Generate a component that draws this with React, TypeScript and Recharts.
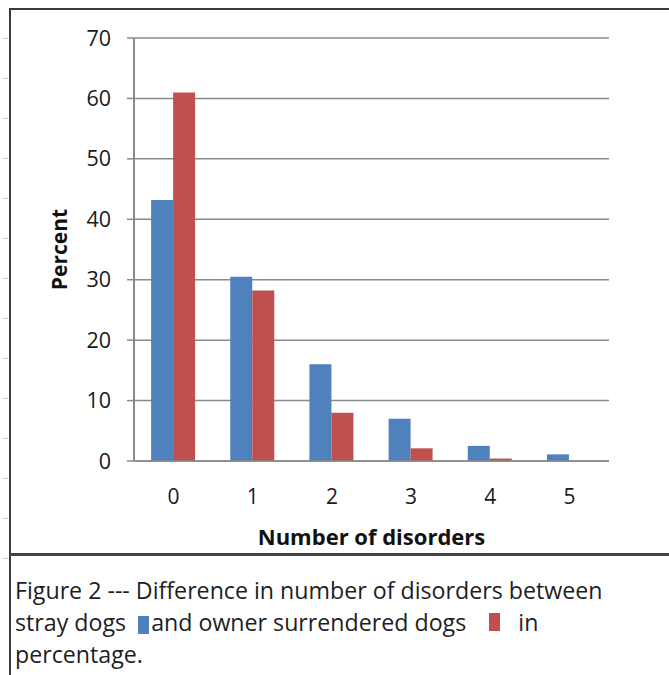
import { BarChart, Bar, XAxis, YAxis, CartesianGrid } from 'recharts'

const categories = ['0', '1', '2', '3', '4', '5']
const strayDogs = [43.2, 30.5, 16, 7, 2.5, 1.1]
const ownerSurrendered = [61, 28.2, 8, 2.1, 0.4, 0]
const yTicks = [0, 10, 20, 30, 40, 50, 60, 70]

const data = categories.map((c, i) => ({
  disorders: c,
  stray: strayDogs[i],
  owner: ownerSurrendered[i],
}))

const FONT = '"Open Sans", sans-serif'
const BLUE = '#4F81BD'
const RED = '#C0504D'
const GRID = '#8a8a8a'

// faint sheet row markers down the left edge
const rowMarks = Array.from({ length: 14 }, (_, i) => 38 + i * 40)

export default function App() {
  return (
    <div style={{ position: 'absolute', left: 0, top: 0, width: 669, height: 675, background: '#fff', fontFamily: FONT }}>
      {rowMarks.map((y) => (
        <div key={y} style={{ position: 'absolute', left: 2, top: y, width: 6, height: 1, background: '#c5cde0' }} />
      ))}
      <div style={{ position: 'absolute', left: 9, top: 8, width: 660, height: 2, background: '#3a3a3a' }} />
      <div style={{ position: 'absolute', left: 9, top: 8, width: 2, height: 667, background: '#3a3a3a' }} />
      <div style={{ position: 'absolute', left: 9, top: 553, width: 660, height: 3, background: '#444' }} />

      <div style={{ position: 'absolute', left: 0, top: 0 }}>
        <BarChart
          width={669}
          height={553}
          data={data}
          margin={{ top: 38, right: 60, left: 0, bottom: 0 }}
          barCategoryGap="21.6%"
          barGap={0}
        >
          <CartesianGrid vertical={false} stroke={GRID} strokeWidth={1.5} />
          <XAxis
            dataKey="disorders"
            height={92}
            axisLine={{ stroke: GRID, strokeWidth: 1.5 }}
            tickLine={false}
            tickMargin={22}
            tick={{ fontSize: 21, fill: '#1a1a1a', fontFamily: FONT }}
            label={{
              value: 'Number of disorders',
              position: 'insideBottom',
              offset: 8,
              style: { fontSize: 22, fontWeight: 700, fill: '#111', fontFamily: FONT },
            }}
          />
          <YAxis
            width={134}
            domain={[0, 70]}
            ticks={yTicks}
            interval={0}
            axisLine={{ stroke: GRID, strokeWidth: 2 }}
            tickLine={{ stroke: GRID, strokeWidth: 1.5 }}
            tickSize={7}
            tickMargin={16}
            tick={{ fontSize: 21.5, fill: '#1a1a1a', fontFamily: FONT }}
            label={{
              value: 'Percent',
              angle: -90,
              position: 'insideLeft',
              offset: 60,
              style: { textAnchor: 'middle', fontSize: 21, fontWeight: 700, fill: '#111', fontFamily: FONT },
            }}
          />
          <Bar dataKey="stray" fill={BLUE} isAnimationActive={false} />
          <Bar dataKey="owner" fill={RED} isAnimationActive={false} />
        </BarChart>
      </div>

      <div style={{ position: 'absolute', left: 15, top: 574, fontSize: 23.2, lineHeight: '32px', color: '#1e1e1e', whiteSpace: 'nowrap' }}>
        <div>Figure 2 --- Difference in number of disorders between</div>
        <div>
          stray dogs{' '}
          <span style={{ display: 'inline-block', width: 11, height: 18, background: BLUE, verticalAlign: '-3px', margin: '0 2px 0 6px' }} />
          and owner surrendered dogs{' '}
          <span style={{ display: 'inline-block', width: 11, height: 18, background: RED, verticalAlign: '0px', margin: '0 18px 0 17px' }} />
          in
        </div>
        <div>percentage.</div>
      </div>
    </div>
  )
}
